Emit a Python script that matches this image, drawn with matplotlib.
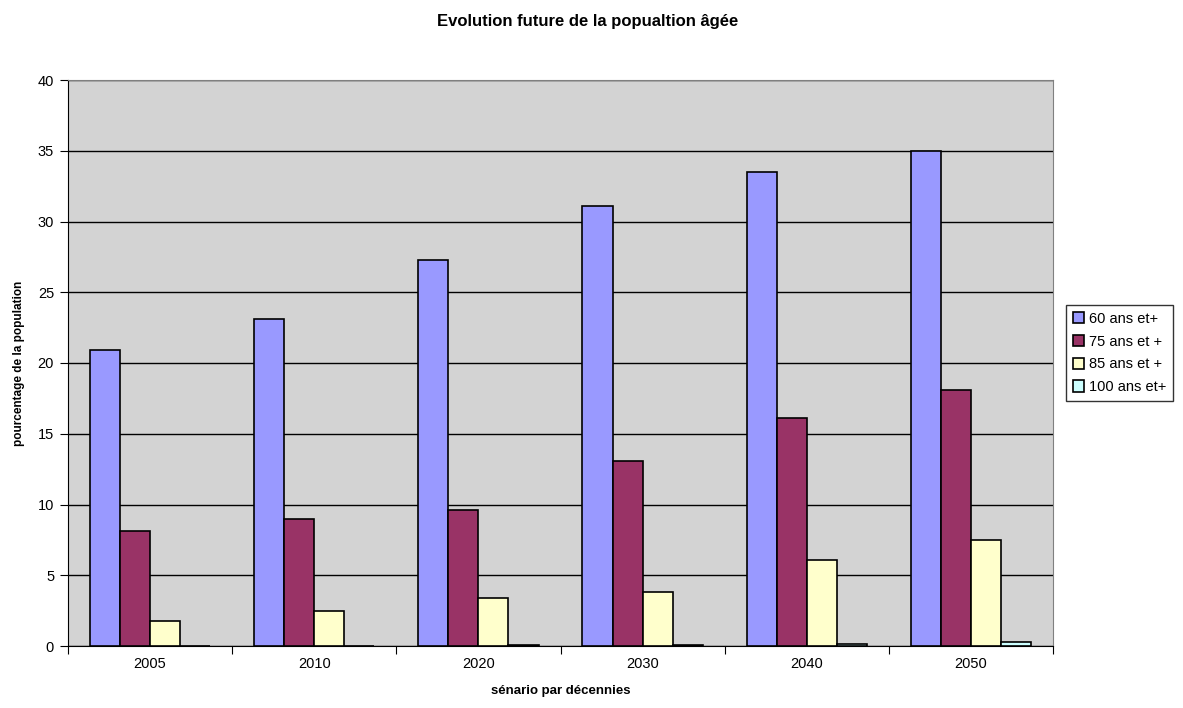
import numpy as np
import matplotlib.pyplot as plt

plt.rcParams['font.family'] = ['Liberation Sans', 'DejaVu Sans']

# data
annees = ['2005', '2010', '2020', '2030', '2040', '2050']
series = ['60 ans et+', '75 ans et +', '85 ans et +', '100 ans et+']
v60 = [20.9, 23.1, 27.3, 31.1, 33.5, 35.0]
v75 = [8.1, 9.0, 9.6, 13.1, 16.1, 18.1]
v85 = [1.8, 2.5, 3.4, 3.8, 6.1, 7.5]
v100 = [0.02, 0.03, 0.05, 0.08, 0.15, 0.26]
couleurs = ['#9999FF', '#993366', '#FFFFCC', '#CCFFFF']

fig = plt.figure(figsize=(11.83, 7.08), dpi=100)
ax = fig.add_axes([68 / 1183, 1 - 646 / 708, 985 / 1183, 566 / 708])
ax.set_facecolor('#D3D3D3')

x = np.arange(len(annees))
w = 0.183
for i, (vals, c, lab) in enumerate(zip([v60, v75, v85, v100], couleurs, series)):
    ax.bar(x + (i - 1.5) * w, vals, w, color=c, edgecolor='black', linewidth=1.2,
           label=lab, zorder=3)

ax.set_xlim(-0.5, len(annees) - 0.5)
ax.set_ylim(0, 40)
ax.set_yticks(range(0, 41, 5))
ax.yaxis.grid(True, color='black', linewidth=1, zorder=0)
ax.set_axisbelow(True)

# ticks between categories
ax.set_xticks(np.arange(-0.5, len(annees), 1))
ax.set_xticklabels([])
ax.set_xticks(x, minor=True)
ax.set_xticklabels(annees, minor=True, fontsize=10.5)
ax.tick_params(axis='x', which='minor', length=0, pad=8)
ax.tick_params(axis='x', which='major', length=6, direction='out')
ax.tick_params(axis='y', length=6, direction='out', labelsize=10.5, pad=4)

for s in ['top', 'right']:
    ax.spines[s].set_color('#808080')
for s in ['left', 'bottom']:
    ax.spines[s].set_color('black')

ax.set_xlabel('sénario par décennies', fontsize=9.5, fontweight='bold', labelpad=10)
ax.set_ylabel('pourcentage de la population', fontsize=8.5, fontweight='bold', labelpad=9)
fig.suptitle('Evolution future de la popualtion âgée', fontsize=12, fontweight='bold',
             x=0.497, y=0.98)

leg = ax.legend(loc='upper left', bbox_to_anchor=(998 / 985, 0.602), fontsize=10.5,
                frameon=True, fancybox=False, edgecolor='black', handlelength=0.8,
                handleheight=0.8, handletextpad=0.3, borderpad=0.45, labelspacing=0.6,
                borderaxespad=0)
leg.get_frame().set_linewidth(1)

fig.savefig('out.png', dpi=100)
